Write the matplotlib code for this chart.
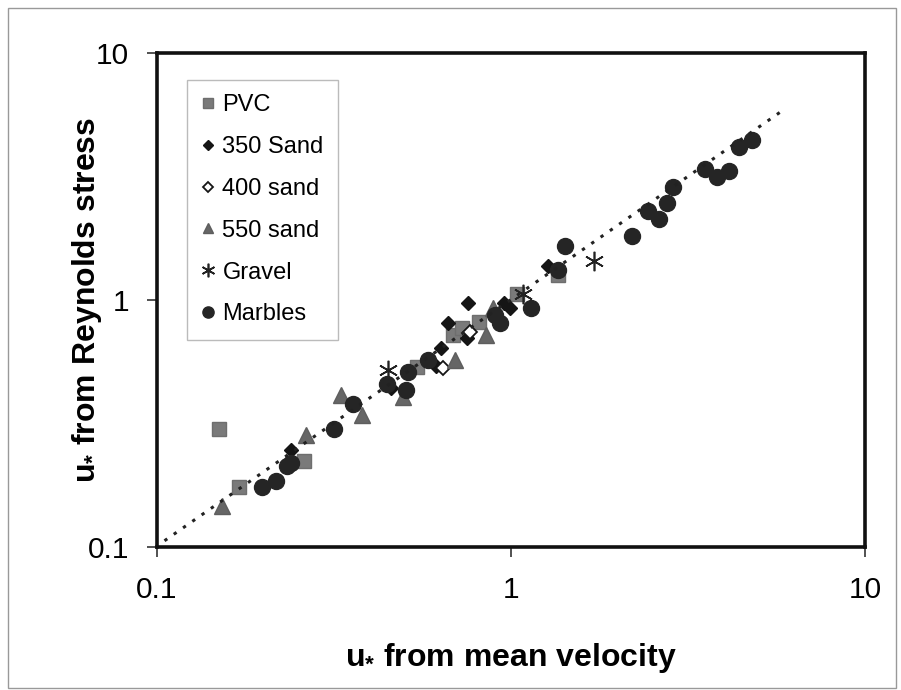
import matplotlib
matplotlib.use("Agg")
import matplotlib.pyplot as plt
from matplotlib.patches import Rectangle

plt.rcParams['font.family'] = ['Liberation Sans', 'DejaVu Sans']
plt.rcParams['mathtext.fontset'] = 'custom'
plt.rcParams['mathtext.rm'] = 'Liberation Sans:bold'
plt.rcParams['mathtext.bf'] = 'Liberation Sans:bold'
plt.rcParams['mathtext.default'] = 'bf'

# data (u* values, log-log)
pvc_x = [0.150, 0.170, 0.260, 0.542, 0.686, 0.727, 0.813, 1.04, 1.358]
pvc_y = [0.300, 0.175, 0.223, 0.535, 0.721, 0.771, 0.815, 1.057, 1.26]

sand350_x = [0.239, 0.458, 0.614, 0.635, 0.664, 0.752, 0.756, 0.955, 0.994, 1.272]
sand350_y = [0.247, 0.440, 0.540, 0.640, 0.807, 0.702, 0.972, 0.972, 0.928, 1.373]

sand400_x = [0.643, 0.766]
sand400_y = [0.530, 0.742]

sand550_x = [0.153, 0.264, 0.331, 0.379, 0.495, 0.695, 0.850, 0.889]
sand550_y = [0.146, 0.284, 0.413, 0.342, 0.405, 0.571, 0.721, 0.928]

gravel_x = [0.449, 1.08, 1.716]
gravel_y = [0.521, 1.057, 1.439]

marbles_x = [0.198, 0.217, 0.233, 0.239, 0.316, 0.358, 0.447, 0.505, 0.512, 0.583,
             0.901, 0.931, 1.139, 1.358, 1.421, 2.198, 2.438, 2.618, 2.76, 2.869,
             3.53, 3.82, 4.13, 4.41, 4.80]
marbles_y = [0.175, 0.185, 0.213, 0.219, 0.300, 0.379, 0.457, 0.432, 0.511, 0.571,
             0.869, 0.807, 0.928, 1.322, 1.654, 1.816, 2.293, 2.128, 2.47, 2.868,
             3.39, 3.147, 3.33, 4.16, 4.44]

# trend line end points
trend_x = [0.105, 5.8]
trend_y = [0.106, 5.8]

fig = plt.figure(figsize=(9.01, 6.90), dpi=100)
ax = fig.add_axes([157 / 901, 1 - 547 / 690, (865 - 157) / 901, (547 - 53) / 690])

ax.plot(pvc_x, pvc_y, 's', color='#7a7a7a', ms=10.5, mec='#6e6e6e', label='PVC', zorder=3)
ax.plot(sand350_x, sand350_y, 'D', color='#151515', ms=7, mec='#151515', label='350 Sand', zorder=3)
ax.plot(sand400_x, sand400_y, 'D', color='white', ms=7, mec='#151515', mew=1.3, label='400 sand', zorder=3)
ax.plot(sand550_x, sand550_y, '^', color='#666666', ms=11, mec='#5e5e5e', label='550 sand', zorder=3)
ax.plot(gravel_x, gravel_y, marker=(6, 2, 0), ls='none', color='#222222', ms=14, mew=1.2, label='Gravel', zorder=3)
ax.plot(marbles_x, marbles_y, 'o', color='#252525', ms=11.5, mec='#252525', label='Marbles', zorder=3)
ax.plot(trend_x, trend_y, color='#222222', lw=2.2, dashes=(1.1, 2.6), zorder=4)

ax.set_xscale('log')
ax.set_yscale('log')
ax.set_xlim(0.1, 10)
ax.set_ylim(0.1, 10)
ax.set_xticks([0.1, 1, 10])
ax.set_xticklabels(['0.1', '1', '10'])
ax.set_yticks([0.1, 1, 10])
ax.set_yticklabels(['0.1', '1', '10'])
ax.minorticks_off()
ax.tick_params(direction='out', length=7, width=1.2, labelsize=21.5, color='#333333')
ax.tick_params(axis='x', pad=14)
ax.tick_params(axis='y', pad=13)
for s in ax.spines.values():
    s.set_linewidth(2.6)
    s.set_color('#111111')

ax.set_xlabel(r'u$_{*}$ from mean velocity', fontsize=23, fontweight='bold')
ax.set_ylabel(r'u$_{*}$ from Reynolds stress', fontsize=23, fontweight='bold')
ax.xaxis.set_label_coords(0.5, (547 - 641) / 494)
ax.yaxis.set_label_coords((104 - 157) / 708, 0.5)

leg = ax.legend(loc='upper left', bbox_to_anchor=((187 - 157) / 708, (547 - 80) / 494),
                fontsize=17, frameon=True, fancybox=False, markerscale=0.7,
                handlelength=0.6, handletextpad=0.3, labelspacing=0.84,
                borderpad=0.6, borderaxespad=0)
leg.get_frame().set_edgecolor('#aaaaaa')
leg.get_frame().set_linewidth(1)

fig.patches.append(Rectangle((8 / 901, 2 / 690), 888 / 901, 680 / 690, transform=fig.transFigure,
                             fill=False, edgecolor='#999999', lw=1))

fig.savefig('out.png', dpi=100)
